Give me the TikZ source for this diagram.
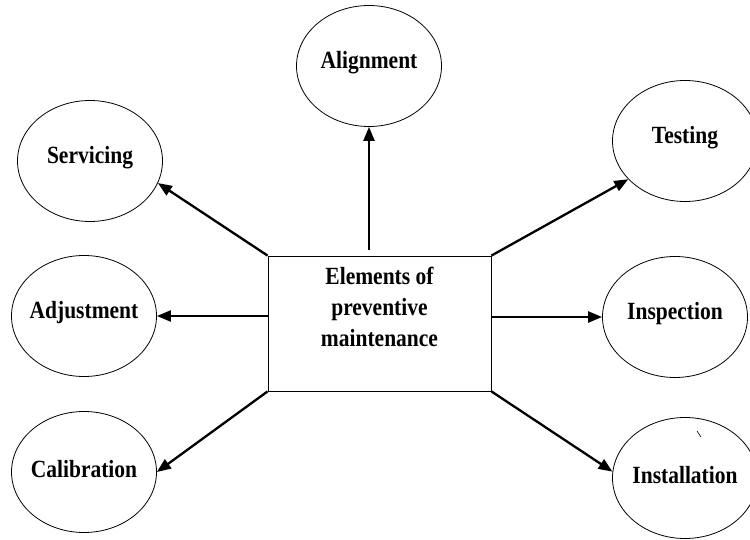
\documentclass[tikz,border=0pt]{standalone}
\usepackage{fontspec}
\setmainfont{Liberation Serif}
\usetikzlibrary{shapes.geometric,arrows.meta}
\newcommand{\tallword}[1]{\scalebox{1}[1.15]{#1}}

\begin{document}
\begin{tikzpicture}[
x=1pt,y=-1pt,
myellipse/.style={
  draw,
  ellipse,
  line width=0.8pt,
  minimum width=145pt,
  minimum height=121pt
  },
mybox/.style={
  draw,
  line width=0.8pt,
  minimum width=223pt,
  minimum height=135pt
  },
mytext/.style={font=\bfseries\fontsize{21.5}{31}\selectfont,align=center},
myarrow/.style={-{Triangle[length=14pt,width=11pt]},line width=2.3pt}
]
\useasboundingbox (0,0) rectangle (750,540);
\foreach \Name/\X/\Y/\Text in {align/369/66/Alignment,serv/90/161/Servicing,adj/84/316/Adjustment,cal/84/472/Calibration,test/685/141/Testing,insp/675/317/Inspection,inst/685/478/Installation}
  \node[myellipse,label={[mytext,anchor=base,yshift=3pt]center:\tallword{\Text}}] (\Name) at (\X,\Y) {};
\node[mybox,label={[mytext,yshift=17pt]center:\tallword{Elements of}\\\tallword{preventive}\\\tallword{maintenance}}] (elem) at (379.5,323.5) {};
\coordinate (a0) at (369,250);
\draw[myarrow] (a0) -- (align.south);
\draw[myarrow] (elem.north west) -- (serv.-18);
\draw[myarrow] (elem.west |- adj.east) -- (adj.east);
\draw[myarrow] (elem.south west) -- (cal.east);
\draw[myarrow] (elem.north east) -- (test.-146);
\draw[myarrow] (elem.east |- insp.west) -- (insp.west);
\draw[myarrow] (elem.south east) -- (inst.175);
% stray mark
\draw[line width=0.6pt] (697,431) -- (701,437);
\end{tikzpicture}
\end{document}
